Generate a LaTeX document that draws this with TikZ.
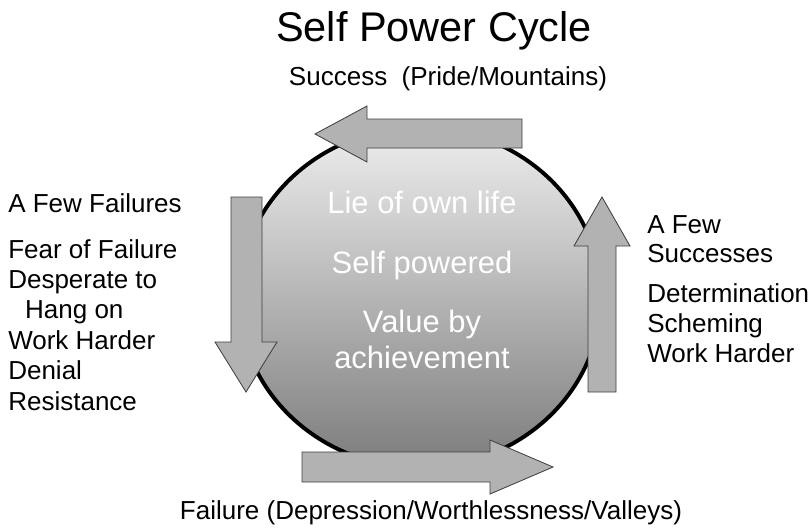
\documentclass[tikz,border=0pt]{standalone}
\usepackage{fontspec}
\setmainfont{Liberation Sans}
\usepackage{tikz}
\definecolor{arrgrey}{HTML}{B2B2B2}
\definecolor{ringtop}{HTML}{EEEEEE}
\definecolor{ringbot}{HTML}{7C7C7C}

\begin{document}
\begin{tikzpicture}[x=0.025cm, y=-0.025cm,
    lbl/.style={font=\fontsize{18.5}{21}\selectfont, anchor=base west, inner sep=0pt},
    inlbl/.style={font=\fontsize{22}{25}\selectfont, text=white, anchor=base, inner sep=0pt},
    bigarrow/.style={fill=arrgrey, draw=black!75, line width=0.6pt, line join=miter}]
    \useasboundingbox[fill=white] (0, 0) rectangle (812, 528);
    % title and captions
    \node[font=\fontsize{29.5}{32}\selectfont, anchor=base, inner sep=0pt] (title) at (434, 41) {Self Power Cycle};
    \node[lbl, anchor=base] (success) at (448, 85) {Success\ \ (Pride/Mountains)};
    \node[lbl, anchor=base] (failure) at (431, 519) {Failure (Depression/Worthlessness/Valleys)};
    % the cycle itself
    \draw[line width=2.8pt, top color=ringtop, bottom color=ringbot] (420, 297.5) ellipse [x radius=181, y radius=170];
    \draw[bigarrow] (522, 119) -- (367, 119) -- (367, 106) -- (315, 134) -- (367, 162) -- (367, 148) -- (522, 148) -- cycle;
    \draw[bigarrow] (231, 197) -- (262, 197) -- (262, 342) -- (277, 342) -- (246, 392) -- (215, 342) -- (231, 342) -- cycle;
    \draw[bigarrow] (588, 392) -- (616, 392) -- (616, 246) -- (630, 246) -- (602, 197) -- (574, 246) -- (588, 246) -- cycle;
    \draw[bigarrow] (302, 452) -- (490, 452) -- (490, 440) -- (553, 467) -- (490, 494) -- (490, 482) -- (302, 482) -- cycle;
    % inside
    \node[inlbl] (lie) at (422, 213) {Lie of own life};
    \node[inlbl] (selfpow) at (422, 273) {Self powered};
    \node[inlbl] (value) at (422, 332) {Value by};
    \node[inlbl] (achieve) at (422, 368) {achievement};
    % left side
    \node[lbl] (fewfail) at (8, 212) {A Few Failures};
    \foreach \txt [count=\i] in {Fear of Failure, Desperate to, \hspace*{12pt}Hang on, Work Harder, Denial, Resistance}
        \node[lbl] (left\i) at (8, {258 + 30.4 * (\i - 1)}) {\txt};
    % right side
    \node[lbl] (fewsucc) at (647, 233) {A Few};
    \node[lbl] (succs) at (647, 262) {Successes};
    \foreach \txt [count=\i] in {Determination, Scheming, Work Harder}
        \node[lbl] (right\i) at (647, {302 + 30 * (\i - 1)}) {\txt};
\end{tikzpicture}
\end{document}
